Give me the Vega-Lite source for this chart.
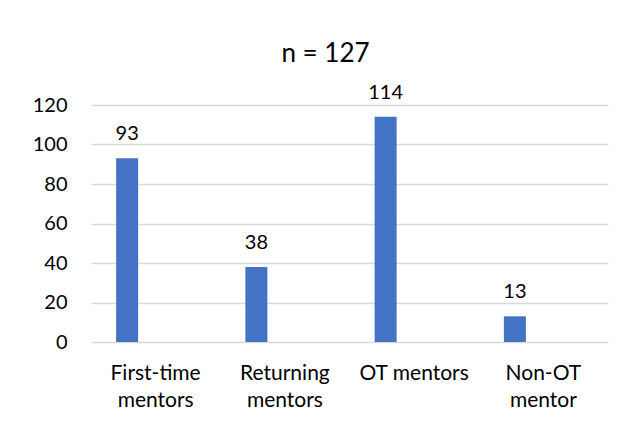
{
  "$schema": "https://vega.github.io/schema/vega-lite/v6.json",
  "autosize": {"type": "none"},
  "padding": {"left": 91, "top": 105, "right": 29, "bottom": 84},
  "width": 517,
  "height": 237,
  "background": "white",
  "title": {
    "text": "n = 127",
    "font": "Lato",
    "fontSize": 26,
    "fontWeight": "normal",
    "color": "#000000",
    "anchor": "middle",
    "baseline": "alphabetic",
    "offset": -5,
    "dx": -24
  },
  "data": {
    "values": [
      {"category": "First-time mentors", "count": 93},
      {"category": "Returning mentors", "count": 38},
      {"category": "OT mentors", "count": 114},
      {"category": "Non-OT mentor", "count": 13}
    ]
  },
  "encoding": {
    "x": {
      "field": "category",
      "type": "nominal",
      "sort": null,
      "scale": {"paddingInner": 0, "paddingOuter": 0},
      "axis": {
        "title": null,
        "labelAngle": 0,
        "domain": false,
        "ticks": false,
        "grid": false,
        "labelFont": "Lato",
        "labelFontSize": 21,
        "labelColor": "#000000",
        "labelLineHeight": 27,
        "labelPadding": 20,
        "labelLimit": 200,
        "labelExpr": "datum.label == 'OT mentors' ? datum.label : split(datum.label, ' ')"
      }
    },
    "y": {
      "field": "count",
      "type": "quantitative",
      "scale": {"domain": [0, 120], "nice": false},
      "axis": {
        "title": null,
        "values": [0, 20, 40, 60, 80, 100, 120],
        "domain": false,
        "ticks": false,
        "gridColor": "#D9D9D9",
        "gridWidth": 1.3,
        "labelFont": "Lato",
        "labelFontSize": 20,
        "labelColor": "#000000",
        "labelPadding": 24
      }
    }
  },
  "layer": [
    {
      "mark": {"type": "bar", "width": 22, "xOffset": -28.5, "color": "#4472C4"}
    },
    {
      "mark": {
        "type": "text",
        "xOffset": -28.5,
        "dy": -18,
        "baseline": "alphabetic",
        "font": "Lato",
        "fontSize": 20,
        "color": "#000000"
      },
      "encoding": {"text": {"field": "count", "type": "quantitative"}}
    }
  ],
  "config": {"view": {"stroke": null}}
}
